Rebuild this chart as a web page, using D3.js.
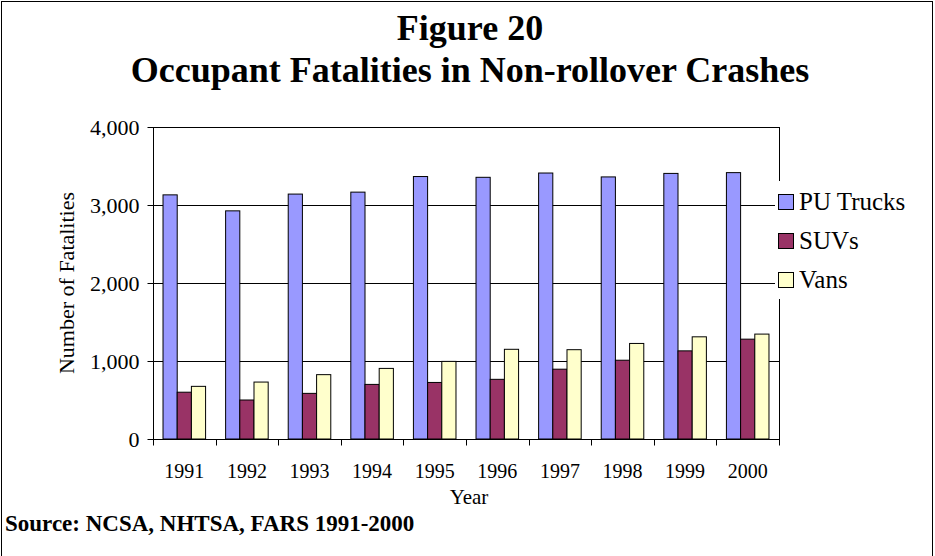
<!DOCTYPE html>
<html>
<head>
<meta charset="utf-8">
<script src="https://cdn.jsdelivr.net/npm/d3@7"></script>
<style>
  html, body { margin: 0; padding: 0; background: #fff; }
  svg { display: block; }
  text { font-family: "Liberation Serif", "Times New Roman", serif; fill: #000; }
</style>
</head>
<body>
<svg id="chart" width="935" height="556"></svg>
<script>
// ---- data ----
const years = ["1991","1992","1993","1994","1995","1996","1997","1998","1999","2000"];
const seriesNames = ["PU Trucks", "SUVs", "Vans"];
const puTrucks = [3130, 2925, 3140, 3165, 3365, 3355, 3410, 3360, 3405, 3415];
const suvs     = [600, 500, 585, 700, 725, 765, 895, 1010, 1130, 1280];
const vans     = [675, 730, 825, 905, 995, 1150, 1145, 1225, 1310, 1345];
const yTicks   = [0, 1000, 2000, 3000, 4000];
const colors   = ["#9999FF", "#993366", "#FFFFCC"];
const titleLines = ["Figure 20", "Occupant Fatalities in Non-rollover Crashes"];
const yTitle = "Number of Fatalities";
const xTitle = "Year";
const sourceText = "Source: NCSA, NHTSA, FARS 1991-2000";

const seriesValues = [puTrucks, suvs, vans];

const svg = d3.select("#chart");

// outer frame
svg.append("rect")
  .attr("x", 1.5).attr("y", 1.5)
  .attr("width", 931).attr("height", 600)
  .attr("fill", "#fff").attr("stroke", "#000").attr("stroke-width", 1);

const plot = { left: 153, right: 779, top: 127, bottom: 439 };

const x = d3.scaleBand().domain(years).range([plot.left, plot.right]).paddingInner(0).paddingOuter(0);
const xInner = d3.scaleBand().domain(seriesNames)
  .range([x.bandwidth() * 0.16, x.bandwidth() * 0.84]);
const y = d3.scaleLinear().domain([0, 4000]).range([plot.bottom, plot.top]);

// gridlines
svg.append("g")
  .selectAll("line")
  .data(yTicks.filter(d => d > 0))
  .join("line")
  .attr("x1", plot.left).attr("x2", plot.right)
  .attr("y1", d => Math.round(y(d)) + 0.5).attr("y2", d => Math.round(y(d)) + 0.5)
  .attr("stroke", "#000").attr("stroke-width", 1);

// plot right border
svg.append("line")
  .attr("x1", plot.right + 0.5).attr("x2", plot.right + 0.5)
  .attr("y1", plot.top).attr("y2", plot.bottom)
  .attr("stroke", "#000");

// bars
const groups = svg.append("g").selectAll("g")
  .data(years)
  .join("g")
  .attr("transform", d => `translate(${x(d)},0)`);

groups.selectAll("rect")
  .data((d, i) => seriesNames.map((s, j) => ({ s, j, v: seriesValues[j][i] })))
  .join("rect")
  .attr("x", d => xInner(d.s))
  .attr("width", xInner.bandwidth())
  .attr("y", d => y(d.v))
  .attr("height", d => y(0) - y(d.v))
  .attr("fill", d => colors[d.j])
  .attr("stroke", "#000")
  .attr("stroke-width", 1);

// y axis
const yAxis = d3.axisLeft(y).tickValues(yTicks).tickSize(6).tickPadding(8)
  .tickFormat(d3.format(","));
const yg = svg.append("g").attr("transform", `translate(${plot.left + 0.5},0)`).call(yAxis);
yg.select(".domain").attr("stroke", "#000").attr("d", `M0,${plot.top}V${plot.bottom}`);
yg.selectAll(".tick line").attr("stroke", "#000");
yg.selectAll(".tick text")
  .style("font-family", '"Liberation Serif", serif')
  .style("font-size", "22px").attr("fill", "#000");

// top border of plot
svg.append("line")
  .attr("x1", plot.left).attr("x2", plot.right + 1)
  .attr("y1", plot.top + 0.5).attr("y2", plot.top + 0.5)
  .attr("stroke", "#000");

// x axis
const xAxisScale = d3.scaleLinear().domain([0, years.length]).range([plot.left, plot.right]);
const xg = svg.append("g").attr("transform", `translate(0,${plot.bottom + 0.5})`);
xg.append("line")
  .attr("x1", plot.left).attr("x2", plot.right + 1)
  .attr("stroke", "#000");
xg.selectAll("line.tk")
  .data(d3.range(years.length + 1))
  .join("line").attr("class", "tk")
  .attr("x1", d => Math.round(xAxisScale(d)) + 0.5).attr("x2", d => Math.round(xAxisScale(d)) + 0.5)
  .attr("y1", 0).attr("y2", 6)
  .attr("stroke", "#000");
xg.selectAll("text")
  .data(years)
  .join("text")
  .attr("x", d => x(d) + x.bandwidth() / 2)
  .attr("y", 38)
  .attr("text-anchor", "middle")
  .style("font-size", "20px")
  .text(d => d);

// axis titles
svg.append("text")
  .attr("transform", `translate(74,${(plot.top + plot.bottom) / 2}) rotate(-90)`)
  .attr("text-anchor", "middle")
  .style("font-size", "22px")
  .text(yTitle);

svg.append("text")
  .attr("x", (plot.left + plot.right) / 2 + 3)
  .attr("y", 504)
  .attr("text-anchor", "middle")
  .style("font-size", "21px")
  .text(xTitle);

// title
svg.append("g").selectAll("text")
  .data(titleLines)
  .join("text")
  .attr("x", 470)
  .attr("y", (d, i) => 40 + i * 42)
  .attr("text-anchor", "middle")
  .style("font-size", "36px")
  .style("font-weight", "bold")
  .text(d => d);

// legend
const legend = svg.append("g").attr("transform", "translate(775,181)");
legend.append("rect").attr("x", 0).attr("y", 0).attr("width", 150).attr("height", 118)
  .attr("fill", "#fff");
const li = legend.selectAll("g").data(seriesNames).join("g")
  .attr("transform", (d, i) => `translate(0,${13 + i * 39})`);
li.append("rect")
  .attr("x", 3.5).attr("y", 0.5).attr("width", 15).attr("height", 15)
  .attr("fill", (d, i) => colors[i]).attr("stroke", "#000");
li.append("text")
  .attr("x", 24).attr("y", 16)
  .style("font-size", "25px")
  .text(d => d);

// source
svg.append("text")
  .attr("x", 5).attr("y", 531)
  .style("font-size", "23px")
  .style("font-weight", "bold")
  .text(sourceText);
</script>
</body>
</html>
